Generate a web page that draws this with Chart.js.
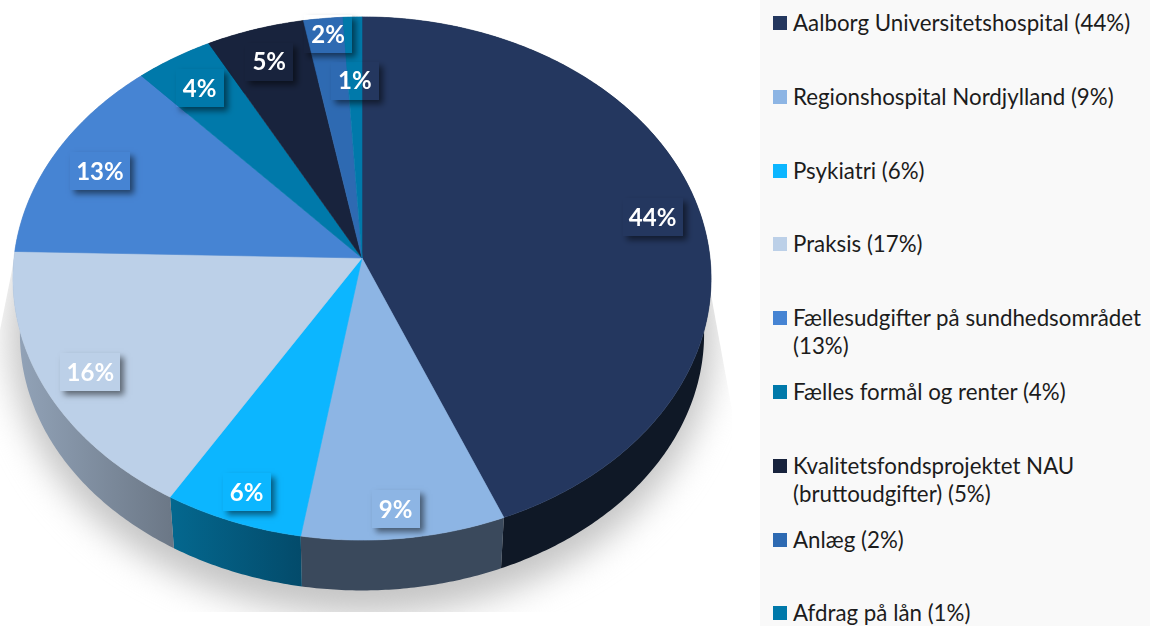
<!DOCTYPE html>
<html><head><meta charset="utf-8">
<style>
html,body{margin:0;padding:0;background:#fff;overflow:hidden;width:1150px;height:626px;position:relative}
#c{position:absolute;left:0;top:0}
#legend{position:absolute;left:760px;top:0;width:390px;height:626px;background:#f9f9f9;overflow:hidden;font-family:Lato,sans-serif;font-size:22.3px;line-height:28px;color:#1c1c1c}
.item{position:absolute;left:33px;width:357px}
.sw{position:absolute;left:-20px;top:7px;width:14px;height:14px}
</style></head><body>
<canvas id="c" width="760" height="626"></canvas>
<div id="legend"></div>
<script src="https://cdn.jsdelivr.net/npm/chart.js@4"></script>
<script>
const categories=["Aalborg Universitetshospital (44%)","Regionshospital Nordjylland (9%)","Psykiatri (6%)","Praksis (17%)","Fællesudgifter på sundhedsområdet (13%)","Fælles formål og renter (4%)","Kvalitetsfondsprojektet NAU (bruttoudgifter) (5%)","Anlæg (2%)","Afdrag på lån (1%)"];
const values=[43.83,8.77,6.0,16.8,12.9,3.9,4.9,1.96,0.94];
const sliceLabels=["44%","9%","6%","16%","13%","4%","5%","2%","1%"];
const colors=["#24375f","#8db5e4","#0cb6ff","#bcd0e8","#4684d3","#0079aa","#18233d","#2e6ab2","#0079aa"];
const wallColors=["#0f1826","#3a495c",["#04688f","#034b6b"],["#93a4b9","#6c7887"],"#8a9bb2","#005a80","#0f1826","#1f4a7d","#005a80"];
const labelRadii=[.85,.92,.87,.865,.855,.845,.85,.92,.73];
const labelShift=[[4,1],[-5,-5],[-4,7],[1,2],[1,3],[-2,1],[-1,0],[2,-2],[0,2]];

const CX=362,CY=258,A=348,B=260,K=.0783,SHRINK=.98,DROP=56;
const proj=(a,r=1)=>{const u=r*Math.cos(a),v=r*Math.sin(a),w=1-K*v;return [CX+A*u/w,CY+B*v/w]};
const lower=p=>[CX+SHRINK*(p[0]-CX),CY+SHRINK*(p[1]-CY)+DROP];
const rim=(s,e)=>{const n=Math.max(2,Math.ceil((e-s)/.01)),o=[];for(let i=0;i<=n;i++)o.push(proj(s+(e-s)*i/n));return o};
const trace=(ctx,pts)=>{pts.forEach((p,i)=>i?ctx.lineTo(p[0],p[1]):ctx.moveTo(p[0],p[1]))};

const pie3d={id:'pie3d',
 beforeDatasetDraw(chart,args){
  const ctx=chart.ctx,arcs=chart.getDatasetMeta(0).data;
  // ground shadow
  ctx.save();
  ctx.beginPath();trace(ctx,[[692,190],[732,410],[732,612],[0,612],[0,330],[16,250]]);ctx.closePath();ctx.clip();
  ctx.filter='blur(17px)';ctx.fillStyle='#c4c4c4';
  ctx.beginPath();ctx.ellipse(362,335,352,280,0,0,Math.PI*2);ctx.fill();
  ctx.restore();
  // side walls
  arcs.forEach((el,i)=>{
   const top=rim(el.startAngle,el.endAngle),bot=top.map(lower).reverse();
   const wc=wallColors[i];let fill=wc;
   if(Array.isArray(wc)){const xs=top.map(p=>p[0]);
    fill=ctx.createLinearGradient(Math.min(...xs),0,Math.max(...xs),0);fill.addColorStop(0,wc[0]);fill.addColorStop(1,wc[1]);}
   ctx.beginPath();trace(ctx,top.concat(bot));ctx.closePath();ctx.fillStyle=fill;ctx.fill();
  });
  // top face
  arcs.forEach((el,i)=>{
   ctx.beginPath();trace(ctx,[[CX,CY]].concat(rim(el.startAngle,el.endAngle)));ctx.closePath();
   ctx.fillStyle=colors[i];ctx.strokeStyle=colors[i];ctx.lineWidth=.6;ctx.fill();ctx.stroke();
  });
  return false;
 },
 afterDatasetsDraw(chart){
  const ctx=chart.ctx,arcs=chart.getDatasetMeta(0).data;
  ctx.font='bold 24px Lato,sans-serif';ctx.textAlign='center';ctx.textBaseline='middle';
  arcs.forEach((el,i)=>{
   const p=proj((el.startAngle+el.endAngle)/2,labelRadii[i]);
   const x=p[0]+labelShift[i][0],y=p[1]+labelShift[i][1];
   const w=sliceLabels[i].length>2?60:48,h=38,l=Math.round(x-w/2),t=Math.round(y-h/2);
   ctx.save();
   ctx.beginPath();ctx.rect(0,0,760,626);ctx.rect(l,t,w,h);ctx.clip('evenodd');
   ctx.shadowColor='rgba(0,0,0,.5)';ctx.shadowBlur=6;ctx.shadowOffsetX=4;ctx.shadowOffsetY=4;
   ctx.fillStyle='#000';ctx.fillRect(l,t,w,h);
   ctx.restore();
   ctx.fillStyle='#fff';ctx.fillText(sliceLabels[i],x,y+1);
  });
 }
};

new Chart(document.getElementById('c'),{type:'pie',
 data:{labels:categories,datasets:[{data:values,backgroundColor:colors,borderWidth:0}]},
 options:{responsive:false,animation:false,events:[],plugins:{legend:{display:false},tooltip:{enabled:false}}},
 plugins:[pie3d]});

const lg=document.getElementById('legend');
categories.forEach((c,i)=>{
 const d=document.createElement('div');d.className='item';d.style.top=(9+i*73.8)+'px';
 const s=document.createElement('span');s.className='sw';s.style.background=colors[i];
 d.appendChild(s);d.appendChild(document.createTextNode(c));lg.appendChild(d);
});
</script></body></html>
